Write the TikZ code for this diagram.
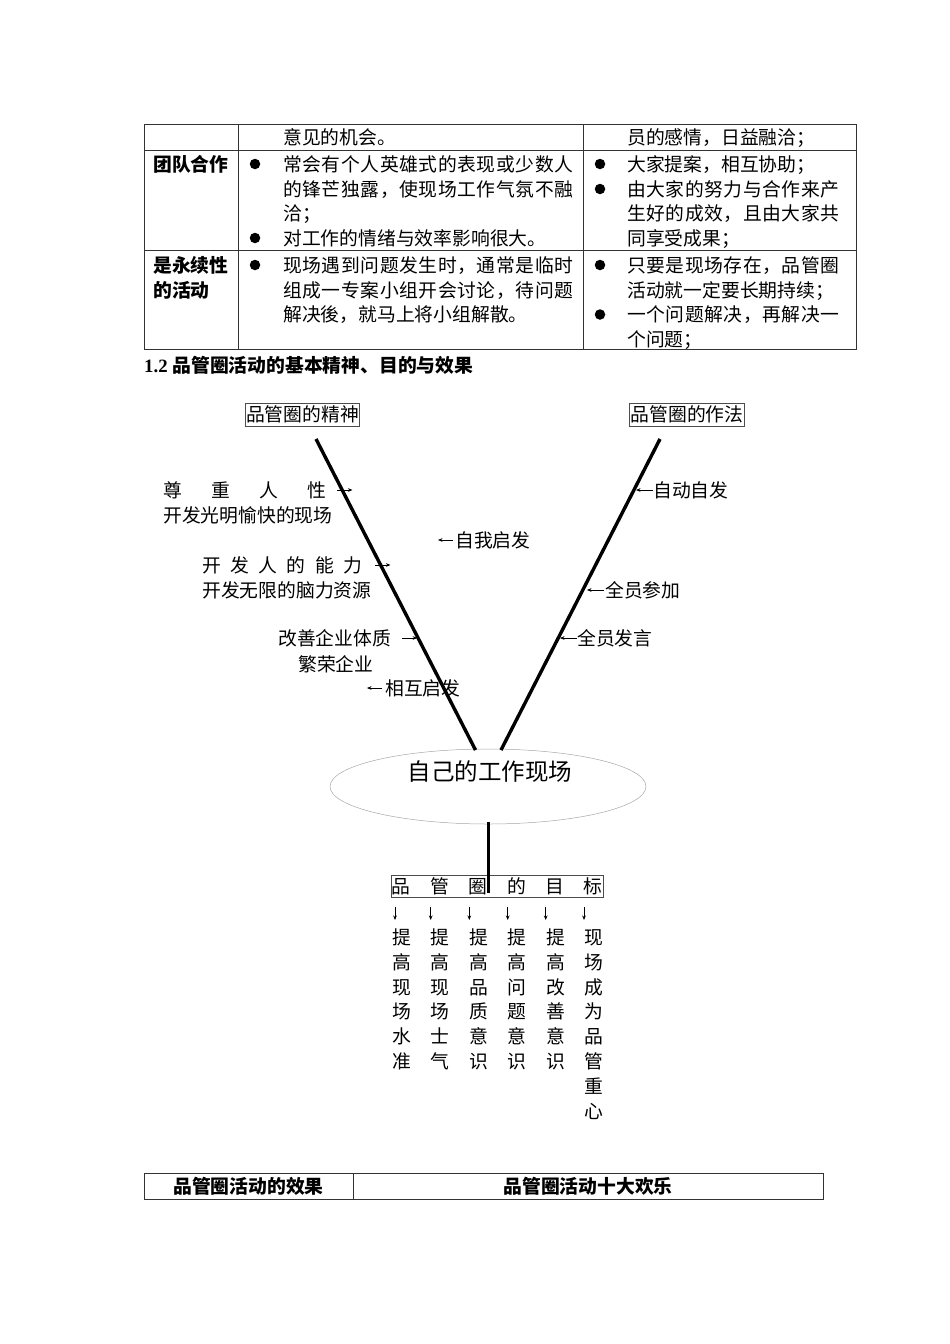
\documentclass[tikz,border=0pt]{standalone}
\usepackage{fontspec}
\setmainfont{Liberation Serif}
\newfontfamily\cjk{Noto Sans CJK SC}
\usetikzlibrary{shapes.geometric,arrows.meta}
\def\spfirst#1{#1\sprest}
\def\sprest#1{\ifx\relax#1\else\hfil#1\expandafter\sprest\fi}
\newcommand\spreadto[2]{\hbox to #1{\spfirst#2\relax}}
\tikzset{
  txt/.style={font=\cjk\fontsize{18.8}{24.8}\selectfont, inner sep=0pt, text height=16.5pt, text depth=2.3pt},
  hdr/.style={txt, font=\cjk\bfseries\fontsize{18.8}{24.8}\selectfont},
  tline/.style={draw=black!80, line width=0.9pt},
  bul/.style={circle, fill=black, minimum size=10.5pt, inner sep=0pt},
  thickline/.style={line width=3.4pt},
  sarr/.style={line width=0.6pt, -{Stealth[length=4.5pt,width=3.6pt]}},
  lbox/.style={txt, draw=black!70, line width=0.8pt, inner xsep=0.8pt, minimum height=23pt},
}
\begin{document}
\begin{tikzpicture}[x=1pt,y=-1pt]
\useasboundingbox (0,0) rectangle (950,1344);
% ---------- top table ----------
\draw[tline] (144,124) rectangle (856.5,349);
\draw[tline] (144,150.5) -- (856.5,150.5);
\draw[tline] (144,250.5) -- (856.5,250.5);
\draw[tline] (238,124) -- (238,349);
\draw[tline] (583,124) -- (583,349);
% row 1
\node[txt, anchor=west] (r1a) at (283,137) {意见的机会。};
\node[txt, anchor=west] (r1b) at (627,137) {员的感情，日益融洽；};
% row 2
\node[hdr, anchor=west] (h2) at (153,164) {团队合作};
\node[bul] (b21) at (255,164) {};
\node[bul] (b22) at (255,238) {};
\node[txt, anchor=west] (r2a1) at (283,164) {\spreadto{290pt}{常会有个人英雄式的表现或少数人}};
\node[txt, anchor=west] (r2a2) at (283,189) {\spreadto{290pt}{的锋芒独露，使现场工作气氛不融}};
\node[txt, anchor=west] (r2a3) at (283,213.5) {洽；};
\node[txt, anchor=west] (r2a4) at (283,238) {对工作的情绪与效率影响很大。};
\node[bul] (b23) at (600,164) {};
\node[bul] (b24) at (600,189) {};
\node[txt, anchor=west] (r2b1) at (627,164) {大家提案，相互协助；};
\node[txt, anchor=west] (r2b2) at (627,189) {\spreadto{212pt}{由大家的努力与合作来产}};
\node[txt, anchor=west] (r2b3) at (627,213.5) {\spreadto{212pt}{生好的成效，且由大家共}};
\node[txt, anchor=west] (r2b4) at (627,238) {同享受成果；};
% row 3
\node[hdr, anchor=west] (h3a) at (153,265) {是永续性};
\node[hdr, anchor=west] (h3b) at (153,290) {的活动};
\node[bul] (b31) at (255,265) {};
\node[txt, anchor=west] (r3a1) at (283,265) {\spreadto{290pt}{现场遇到问题发生时，通常是临时}};
\node[txt, anchor=west] (r3a2) at (283,290) {\spreadto{290pt}{组成一专案小组开会讨论，待问题}};
\node[txt, anchor=west] (r3a3) at (283,314.5) {解决後，就马上将小组解散。};
\node[bul] (b32) at (600,265) {};
\node[bul] (b33) at (600,314.5) {};
\node[txt, anchor=west] (r3b1) at (627,265) {\spreadto{212pt}{只要是现场存在，品管圈}};
\node[txt, anchor=west] (r3b2) at (627,290) {活动就一定要长期持续；};
\node[txt, anchor=west] (r3b3) at (627,314.5) {\spreadto{212pt}{一个问题解决，再解决一}};
\node[txt, anchor=west] (r3b4) at (627,339) {个问题；};
% section title
\node[txt, font=\rmfamily\bfseries\fontsize{18.8}{24.8}\selectfont, anchor=west] (sec) at (144,365) {1.2 {\cjk\bfseries 品管圈活动的基本精神、目的与效果}};
% ---------- diagram ----------
\node[lbox] (spirit) at (302.5,414.5) {品管圈的精神};
\node[lbox] (method) at (687,414.5) {品管圈的作法};
\node[ellipse, draw=black!35, line width=0.5pt, minimum width=316pt, minimum height=75pt, inner sep=0pt] (site) at (488,786.5) {};
\node[txt, font=\cjk\fontsize{23.5}{28}\selectfont, text height=20.6pt, text depth=2.9pt] (sitetext) at (490,772) {自己的工作现场};
\coordinate (lt) at (316,439);
\coordinate (lb) at (475.5,750);
\coordinate (rt) at (660,439);
\coordinate (rb) at (501,750);
\coordinate (vt) at (488.3,822);
\coordinate (vb) at (488.3,893);
\draw[thickline] (lt) -- (lb);
\draw[thickline] (rt) -- (rb);
% left labels
\node[txt, anchor=west] (l1) at (163,490) {\spreadto{163pt}{尊重人性}};
\node[txt, anchor=west] (l1b) at (163,515) {开发光明愉快的现场};
\draw[sarr] ([xshift=11pt]l1.east) -- ++(15,0);
\node[txt, anchor=west] (l2) at (202,565) {\spreadto{160pt}{开发人的能力}};
\node[txt, anchor=west] (l2b) at (202,590) {开发无限的脑力资源};
\draw[sarr] ([xshift=13pt]l2.east) -- ++(15,0);
\node[txt, anchor=west] (l3) at (278,638) {改善企业体质};
\node[txt, anchor=west] (l3b) at (298,664) {繁荣企业};
\draw[sarr] ([xshift=11pt]l3.east) -- ++(15,0);
\node[txt, anchor=west] (l4) at (385,688) {相互启发};
\draw[sarr] ([xshift=-3pt]l4.west) -- ++(-15,0);
\node[txt, anchor=west] (m1) at (455,540) {自我启发};
\draw[sarr] ([xshift=-2pt]m1.west) -- ++(-15,0);
% right labels
\node[txt, anchor=west] (p1) at (653,490) {自动自发};
\draw[sarr] (p1.west) -- ++(-17,0);
\node[txt, anchor=west] (p2) at (605,590) {全员参加};
\draw[sarr] ([xshift=-1pt]p2.west) -- ++(-17,0);
\node[txt, anchor=west] (p3) at (577,638) {全员发言};
\draw[sarr] (p3.west) -- ++(-17,0);
% goals
\node[txt, draw=black!70, line width=0.8pt, inner xsep=0.6pt, minimum height=22pt] (goal) at (497.3,886) {\spreadto{211pt}{品管圈的目标}};
\draw[thickline] (vt) -- (vb);
\foreach \ax [count=\i] in {395,430.7,469.3,507.7,545.7,584} {
  \coordinate (da\i) at (\ax,907);
  \draw[sarr] (da\i) -- ++(0,13);
}
\foreach \cx/\colt [count=\ci] in {401.5/{提,高,现,场,水,准}, 440/{提,高,现,场,士,气}, 478.5/{提,高,品,质,意,识}, 517/{提,高,问,题,意,识}, 555.5/{提,高,改,善,意,识}, 594/{现,场,成,为,品,管,重,心}} {
  \foreach \ch [count=\ri] in \colt {
    \node[txt] (g\ci-\ri) at (\cx, {937.3+(\ri-1)*24.85}) {\ch};
  }
}
% ---------- bottom table ----------
\draw[tline] (144,1173.5) rectangle (823,1199);
\draw[tline] (353,1173.5) -- (353,1199);
\node[hdr] (e1) at (248.5,1186.5) {品管圈活动的效果};
\node[hdr] (e2) at (588,1186.5) {品管圈活动十大欢乐};
\end{tikzpicture}
\end{document}
